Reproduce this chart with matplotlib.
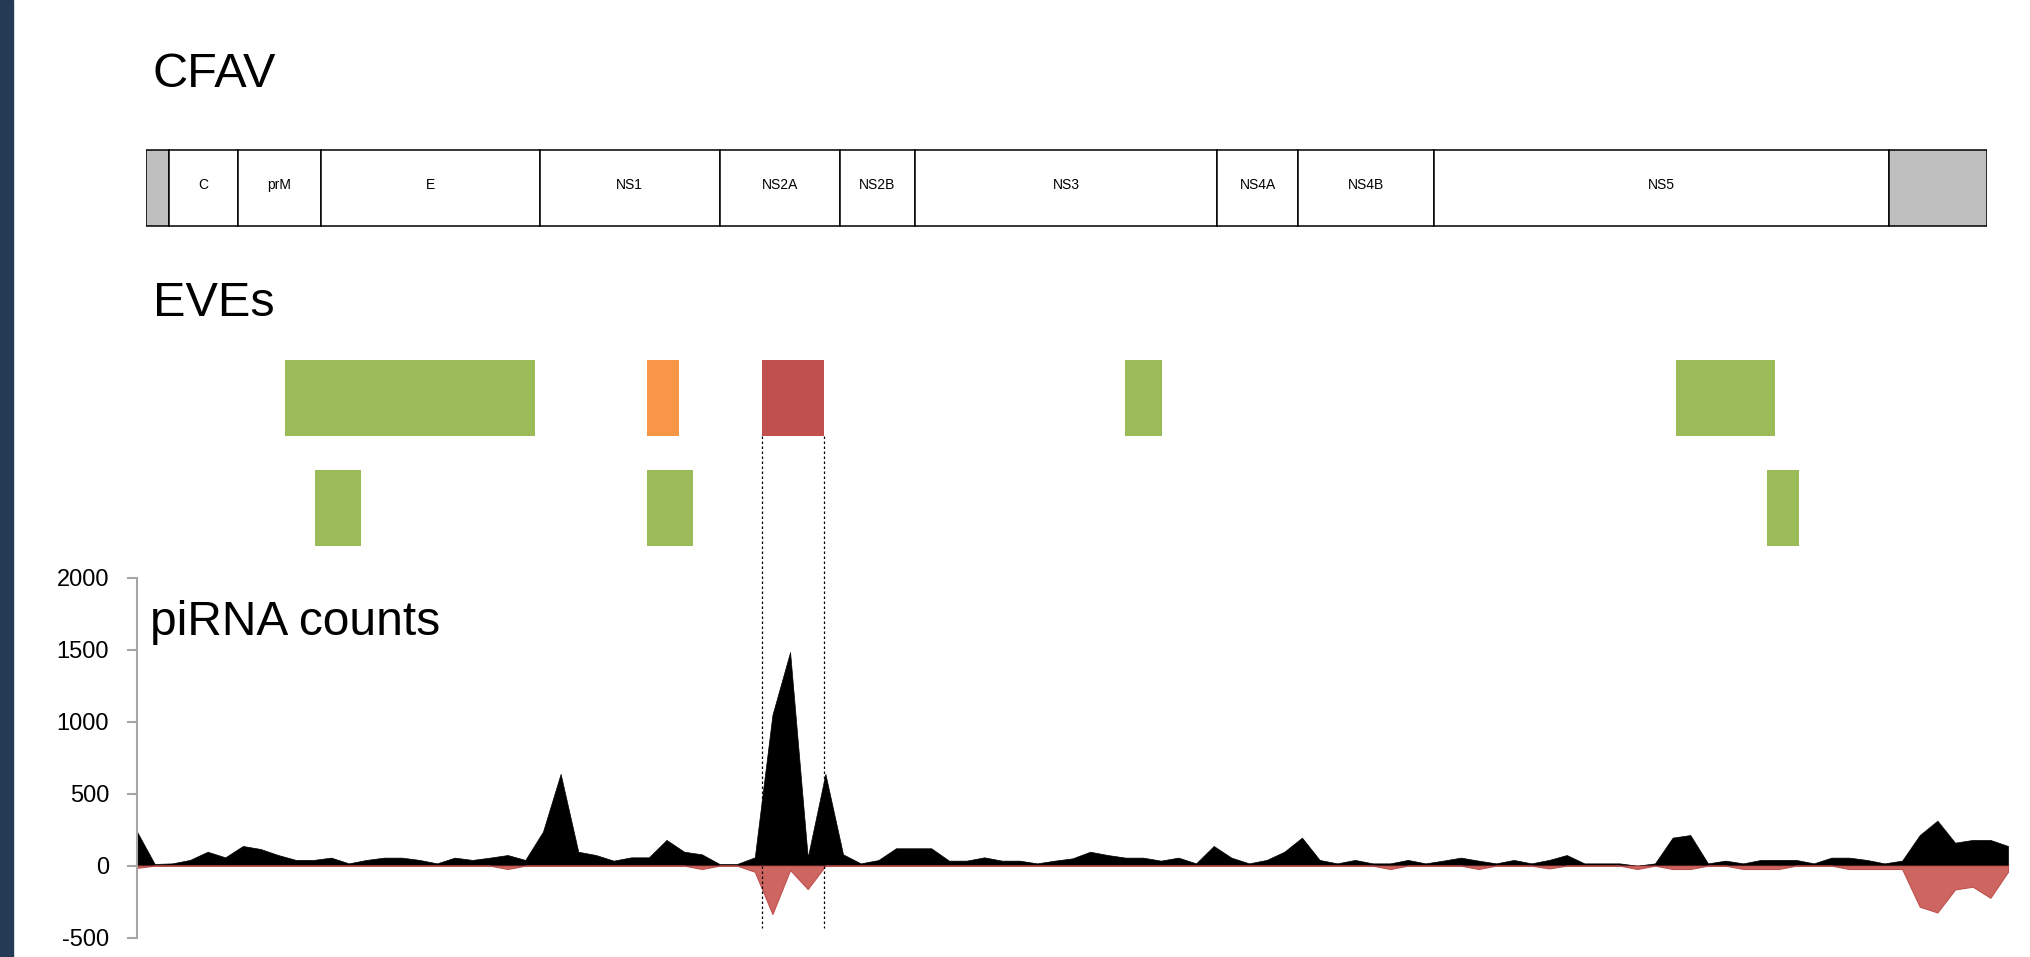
import matplotlib
matplotlib.use('Agg')
import matplotlib.pyplot as plt

W, H = 2031, 957

# CFAV genome map (nt positions)
seg_names = ['', 'C', 'prM', 'E', 'NS1', 'NS2A', 'NS2B', 'NS3', 'NS4A', 'NS4B', 'NS5', '']
seg_bounds = [0, 134, 532, 1014, 2286, 3332, 4031, 4465, 6222, 6695, 7483, 10124, 10695]
utr_segments = [0, 11]

# EVE hits: (start, end, colour)
eve_row1_start = [806, 2911, 3580, 5686, 8889]
eve_row1_end = [2256, 3094, 3939, 5904, 9467]
eve_row1_color = ['#9bbb59', '#f79646', '#c0504d', '#9bbb59', '#9bbb59']
eve_row2_start = [982, 2911, 9418]
eve_row2_end = [1249, 3179, 9601]

# piRNA counts per bin (sense positive, antisense negative)
sense = [237, 12, 16, 40, 97, 58, 137, 116, 74, 40, 40, 56, 16, 40, 56, 56, 40, 16, 56, 40,
         56, 74, 40, 237, 638, 97, 74, 35, 58, 58, 179, 97, 79, 12, 12, 58, 1049, 1485, 58, 638,
         79, 16, 39, 121, 121, 121, 35, 35, 58, 35, 35, 16, 35, 51, 97, 74, 56, 56, 35, 56,
         16, 137, 56, 16, 40, 97, 195, 40, 16, 40, 16, 16, 40, 16, 35, 56, 35, 16, 40, 16,
         40, 74, 16, 16, 16, 0, 16, 195, 213, 16, 35, 16, 40, 40, 40, 16, 56, 56, 40, 16,
         35, 213, 313, 160, 179, 179, 137]
antisense = [-15, 0, 0, 0, 0, 0, 0, 0, 0, 0, 0, 0, 0, 0, 0, 0, 0, 0, 0, 0,
             0, -23, 0, 0, 0, 0, 0, 0, 0, 0, 0, 0, -23, 0, 0, -42, -336, -30, -162, 0,
             0, 0, 0, 0, 0, 0, 0, 0, 0, 0, 0, 0, 0, 0, 0, 0, 0, 0, 0, 0,
             0, 0, 0, 0, 0, 0, 0, 0, 0, 0, 0, -23, 0, 0, 0, 0, -23, 0, 0, 0,
             -19, 0, 0, 0, 0, -23, 0, -23, -23, 0, 0, -23, -23, -23, 0, 0, 0, -23, -23, -23,
             -23, -285, -325, -165, -146, -223, -42]
bins = list(range(len(sense)))

plt.rcParams['font.family'] = ['Liberation Sans', 'DejaVu Sans']
plt.rcParams['axes.unicode_minus'] = False

fig = plt.figure(figsize=(W / 100, H / 100), dpi=100)
fig.patches.append(plt.Rectangle((0, 0), 13 / W, 1, transform=fig.transFigure,
                                 color='#243a55', zorder=0))

# piRNA panel
ax = fig.add_axes([137 / W, 1 - 937.6 / H, (2008 - 137) / W, (937.6 - 578) / H])
ax.fill_between(bins, 0, sense, color='black', lw=0.5)
ax.fill_between(bins, 0, antisense, facecolor='#cd6660', edgecolor='#c0504d', lw=0.8)
ax.set_xlim(0, len(sense) - 1)
ax.set_ylim(-500, 2000)
ax.set_yticks([-500, 0, 500, 1000, 1500, 2000])
ax.set_xticks([])
for s in ['top', 'right', 'bottom']:
    ax.spines[s].set_visible(False)
ax.spines['left'].set_color('#a6a6a6')
ax.spines['left'].set_linewidth(1.5)
ax.tick_params(axis='y', colors='#a6a6a6', labelcolor='black', length=7, width=1.5,
               pad=13, labelsize=17)
ax.patch.set_alpha(0)

# genome map + EVEs, x in nt, y in pixel rows
g = fig.add_axes([146.4 / W, 0, 1840.4 / W, 1])
g.set_xlim(seg_bounds[0], seg_bounds[-1])
g.set_ylim(H, 0)
g.axis('off')
for i, name in enumerate(seg_names):
    x0, x1 = seg_bounds[i], seg_bounds[i + 1]
    fc = '#bfbfbf' if i in utr_segments else 'white'
    g.bar(x0, 76, width=x1 - x0, bottom=150, align='edge', facecolor=fc,
          edgecolor='black', lw=1.1)
    if name:
        g.text((x0 + x1) / 2, 185, name, ha='center', va='center', fontsize=10)

for s, e, c in zip(eve_row1_start, eve_row1_end, eve_row1_color):
    g.bar(s, 76, width=e - s, bottom=360, align='edge', color=c, lw=0)
for s, e in zip(eve_row2_start, eve_row2_end):
    g.bar(s, 76, width=e - s, bottom=470, align='edge', color='#9bbb59', lw=0)

g.vlines([eve_row1_start[2], eve_row1_end[2]], 436, 928, colors='black', lw=0.9,
         linestyles=(0, (2, 2)), zorder=5)

fig.text(153 / W, 1 - 87 / H, 'CFAV', fontsize=35, va='baseline')
fig.text(153 / W, 1 - 316 / H, 'EVEs', fontsize=35, va='baseline')
fig.text(150 / W, 1 - 635 / H, 'piRNA counts', fontsize=34.5, va='baseline')

fig.savefig('out.png', dpi=100)
